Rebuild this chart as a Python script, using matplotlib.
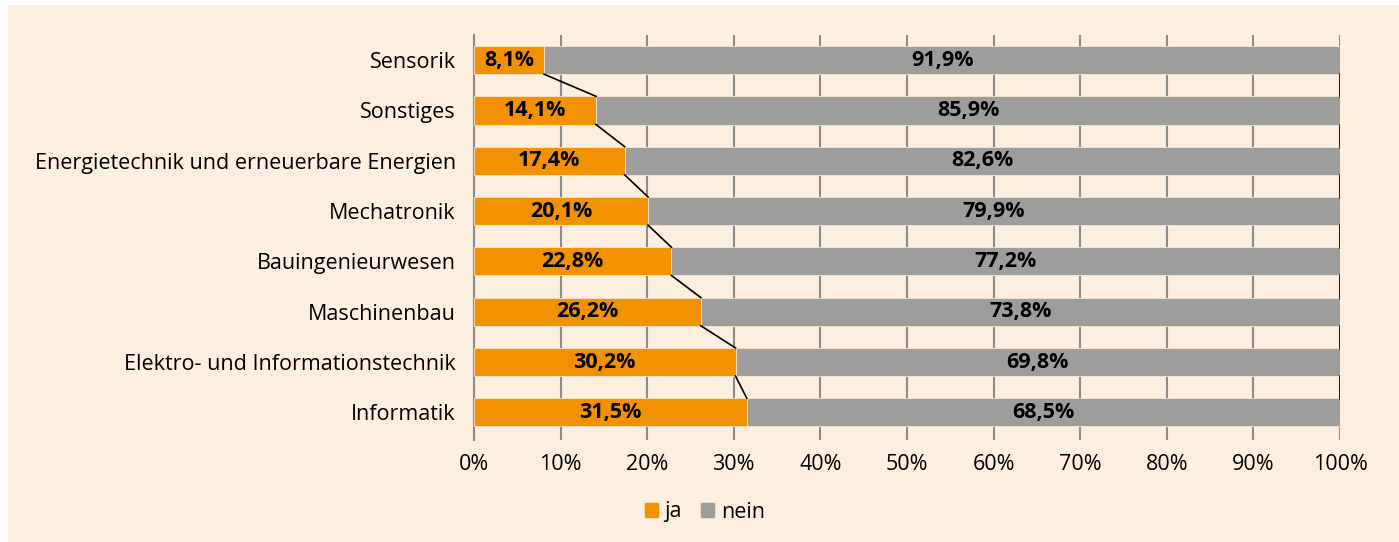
import matplotlib.pyplot as plt
from matplotlib.patches import Rectangle, Patch

categories = ['Sensorik', 'Sonstiges', 'Energietechnik und erneuerbare Energien',
              'Mechatronik', 'Bauingenieurwesen', 'Maschinenbau',
              'Elektro- und Informationstechnik', 'Informatik']
ja = [8.1, 14.1, 17.4, 20.1, 22.8, 26.2, 30.2, 31.5]
nein = [91.9, 85.9, 82.6, 79.9, 77.2, 73.8, 69.8, 68.5]
xticks = [0, 10, 20, 30, 40, 50, 60, 70, 80, 90, 100]

orange = '#F39200'
grey = '#9D9D9C'
bg = '#FCEFDF'
fs = 15.5

plt.rcParams['font.family'] = ['Open Sans', 'DejaVu Sans']

fig = plt.figure(figsize=(13.99, 5.42), dpi=100)
fig.patch.set_facecolor('white')
fig.patches.append(Rectangle((8/1399, 0), 1 - 8/1399, 1 - 5/542,
                             transform=fig.transFigure, facecolor=bg,
                             edgecolor='none', zorder=-10))

ax = fig.add_axes([474/1399, 1 - 440/542, (1340 - 474)/1399, 405/542])
ax.set_facecolor('none')

n = len(categories)
ypos = [n - 1 - i for i in range(n)]
h = 0.56

ax.barh(ypos, ja, height=h, color=orange, edgecolor='#f8e6cc', linewidth=0.6, zorder=3)
ax.barh(ypos, nein, left=ja, height=h, color=grey, edgecolor='#f8e6cc', linewidth=0.6, zorder=3)

for y, a, b in zip(ypos, ja, nein):
    ax.text(a / 2, y, f'{a:.1f}%'.replace('.', ','), ha='center', va='center',
            fontsize=fs, fontweight='bold', color='black', zorder=5)
    ax.text(a + b / 2, y, f'{b:.1f}%'.replace('.', ','), ha='center', va='center',
            fontsize=fs, fontweight='bold', color='black', zorder=5)

# series lines
for i in range(n - 1):
    y0 = ypos[i] - h / 2
    y1 = ypos[i + 1] + h / 2
    ax.plot([ja[i], ja[i + 1]], [y0, y1], color='black', lw=1.2, zorder=4)
    ax.plot([100, 100], [y0, y1], color='black', lw=1.8, zorder=4)

ax.set_xlim(0, 100)
ax.set_ylim(-0.55, n - 0.5)
ax.set_xticks(xticks)
ax.set_xticklabels([f'{t}%' for t in xticks], fontsize=fs)
ax.set_yticks(ypos)
ax.set_yticklabels(categories, fontsize=fs)
ax.tick_params(axis='y', length=0, pad=13)
ax.tick_params(axis='x', length=0, pad=10)
ax.grid(axis='x', color='#8c8c8c', lw=1.5, zorder=0)
for s in ['top', 'right', 'bottom']:
    ax.spines[s].set_visible(False)
ax.spines['left'].set_color('#8c8c8c')
ax.spines['left'].set_linewidth(1.5)

handles = [Patch(color=orange, label='ja'), Patch(color=grey, label='nein')]
fig.legend(handles=handles, loc='center', bbox_to_anchor=(705/1399, 1 - 512/542),
           ncol=2, frameon=False, fontsize=fs, handlelength=0.6, handleheight=0.6,
           handletextpad=0.3, columnspacing=0.9)

fig.savefig('out.png', dpi=100, facecolor=fig.get_facecolor())
